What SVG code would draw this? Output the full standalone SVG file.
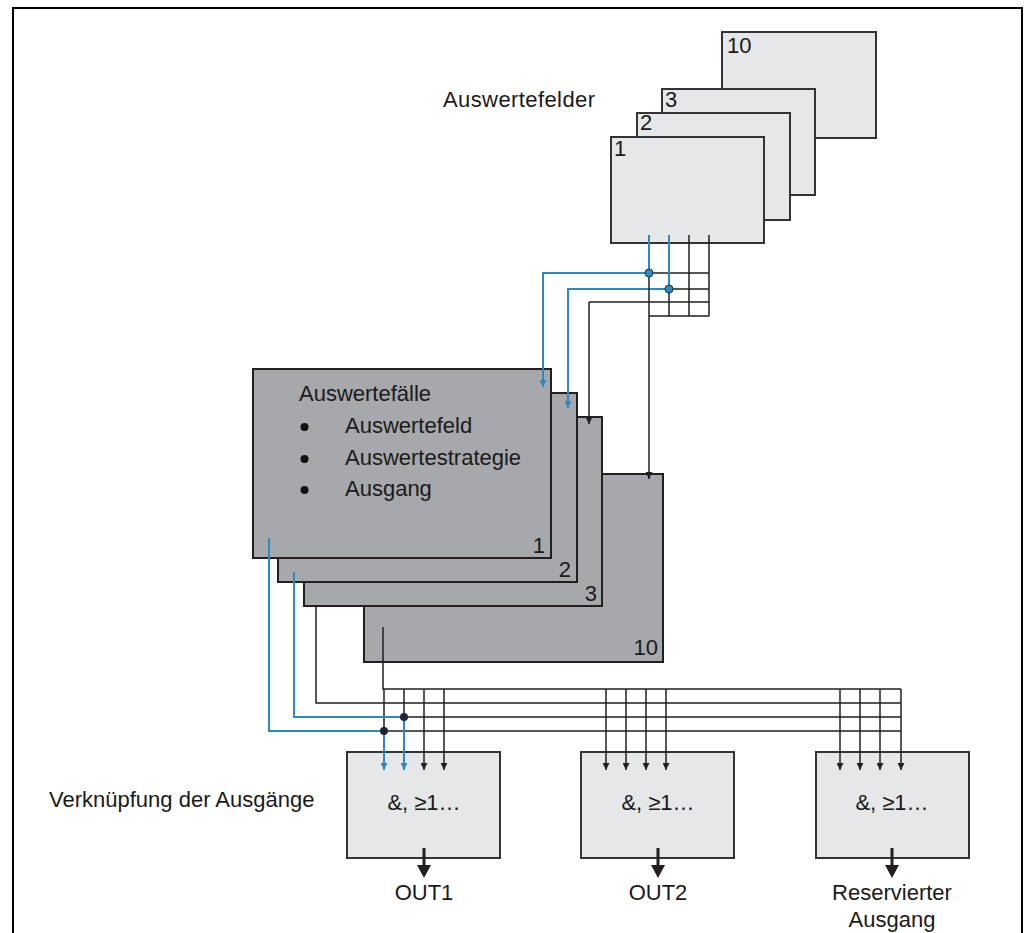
<svg xmlns="http://www.w3.org/2000/svg" width="1029" height="933" viewBox="0 0 1029 933">
<style>
text{font-family:"Liberation Sans",Arial,sans-serif;fill:#1a1a1a}
.t20{font-size:22px}
.t21{font-size:22px}
.lf{fill:#e6e7e8;stroke:#333;stroke-width:2}
.df{fill:#a7a8ab;stroke:#231f20;stroke-width:2}
.k{fill:none;stroke:#231f20;stroke-width:1.5}
.b{fill:none;stroke:#2e89bf;stroke-width:2}
.kA{fill:none;stroke:#231f20;stroke-width:1.5;marker-end:url(#ak)}
.bA{fill:none;stroke:#2e89bf;stroke-width:2;marker-end:url(#ab)}
.out{fill:none;stroke:#231f20;stroke-width:3}
</style>
<defs>
<marker id="ak" viewBox="0 0 8 8" refX="8" refY="4" markerWidth="8" markerHeight="7" orient="auto" markerUnits="userSpaceOnUse"><path d="M0,0 L8,4 L0,8 z" fill="#231f20"/></marker>
<marker id="ab" viewBox="0 0 8 8" refX="8" refY="4" markerWidth="8" markerHeight="7" orient="auto" markerUnits="userSpaceOnUse"><path d="M0,0 L8,4 L0,8 z" fill="#2e89bf"/></marker>
</defs>
<rect width="1029" height="933" fill="#fff"/>
<path d="M13,933 V8 H1022 V933" fill="none" stroke="#000" stroke-width="2"/>

<text class="t20" x="443" y="107" textLength="152">Auswertefelder</text>

<g id="feld10"><rect class="lf" x="722" y="32" width="154" height="106"/><text class="t20" x="727" y="53">10</text></g>
<g id="feld3"><rect class="lf" x="662" y="89" width="153" height="106"/><text class="t20" x="665" y="107">3</text></g>
<g id="feld2"><rect class="lf" x="637" y="113" width="153" height="107"/><text class="t20" x="640" y="130">2</text></g>
<g id="feld1"><rect class="lf" x="611" y="137" width="153" height="106"/><text class="t20" x="614" y="156">1</text></g>

<g id="fall10"><rect class="df" x="364" y="474" width="299" height="188"/><text class="t20" x="658" y="655" text-anchor="end">10</text></g>
<g id="fall3"><rect class="df" x="304" y="417" width="298" height="189"/><text class="t20" x="597" y="601" text-anchor="end">3</text></g>
<g id="fall2"><rect class="df" x="278" y="393" width="299" height="189"/><text class="t20" x="571" y="577" text-anchor="end">2</text></g>
<g id="fall1"><rect class="df" x="253" y="369" width="298" height="189"/><text class="t20" x="545" y="553" text-anchor="end">1</text>
<text class="t21" x="299" y="401">Auswertefälle</text>
<circle cx="304.5" cy="427" r="4" fill="#111"/><text class="t21" x="345" y="433">Auswertefeld</text>
<circle cx="304.5" cy="459" r="4" fill="#111"/><text class="t21" x="345" y="465">Auswertestrategie</text>
<circle cx="304.5" cy="490" r="4" fill="#111"/><text class="t21" x="345" y="496">Ausgang</text>
</g>

<text class="t21" x="49" y="807">Verknüpfung der Ausgänge</text>

<g id="out1"><rect class="lf" x="347" y="752" width="153" height="106"/><text class="t21" x="424" y="810" text-anchor="middle">&amp;, ≥1…</text></g>
<g id="out2"><rect class="lf" x="581" y="752" width="153" height="106"/><text class="t21" x="658" y="810" text-anchor="middle">&amp;, ≥1…</text></g>
<g id="out3"><rect class="lf" x="816" y="752" width="153" height="106"/><text class="t21" x="892" y="810" text-anchor="middle">&amp;, ≥1…</text></g>

<g id="connectors">
<path class="k" d="M689,235 V316 M709,235 V316 M649,273 H709 M669,289 H709 M589,302 H709 M649,316 H709 M669,289 V316"/>
<path class="b" d="M649,235 V273 M669,235 V289"/>
<path class="bA" d="M649,273 H543 V387"/>
<path class="bA" d="M669,289 H568 V408"/>
<path class="kA" d="M589,302 V424"/>
<path class="kA" d="M649,273 V479"/>
<circle cx="649" cy="273" r="4" fill="#2e89bf" stroke="#1d3550" stroke-width="1"/>
<circle cx="669" cy="289" r="4" fill="#2e89bf" stroke="#1d3550" stroke-width="1"/>

<path class="k" d="M383,627 V689 H901 M316,606 V703 H901 M404,717 H901 M384,731 H901 M384,689 V731 M404,689 V717"/>
<path class="b" d="M269,538 V731 H384 M294,572 V717 H404"/>
<path class="bA" d="M384,731 V770"/>
<path class="bA" d="M404,717 V770"/>
<path class="kA" d="M424,689 V770"/>
<path class="kA" d="M444,689 V770"/>
<path class="kA" d="M606,689 V770"/>
<path class="kA" d="M626,689 V770"/>
<path class="kA" d="M646,689 V770"/>
<path class="kA" d="M666,689 V770"/>
<path class="kA" d="M840,689 V770"/>
<path class="kA" d="M860,689 V770"/>
<path class="kA" d="M880,689 V770"/>
<path class="kA" d="M901,689 V770"/>
<circle cx="384" cy="731" r="4" fill="#1c2530"/>
<circle cx="404" cy="717" r="4" fill="#1c2530"/>

<path class="out" d="M424,848 V867 M658,848 V867 M892,848 V867"/>
<path d="M417,865 L431,865 L424,878 z M651,865 L665,865 L658,878 z M885,865 L899,865 L892,878 z" fill="#231f20"/>
</g>

<text class="t21" x="424" y="900" text-anchor="middle">OUT1</text>
<text class="t21" x="658" y="900" text-anchor="middle">OUT2</text>
<text class="t21" x="892" y="900" text-anchor="middle">Reservierter</text>
<text class="t21" x="892" y="927" text-anchor="middle">Ausgang</text>
</svg>
